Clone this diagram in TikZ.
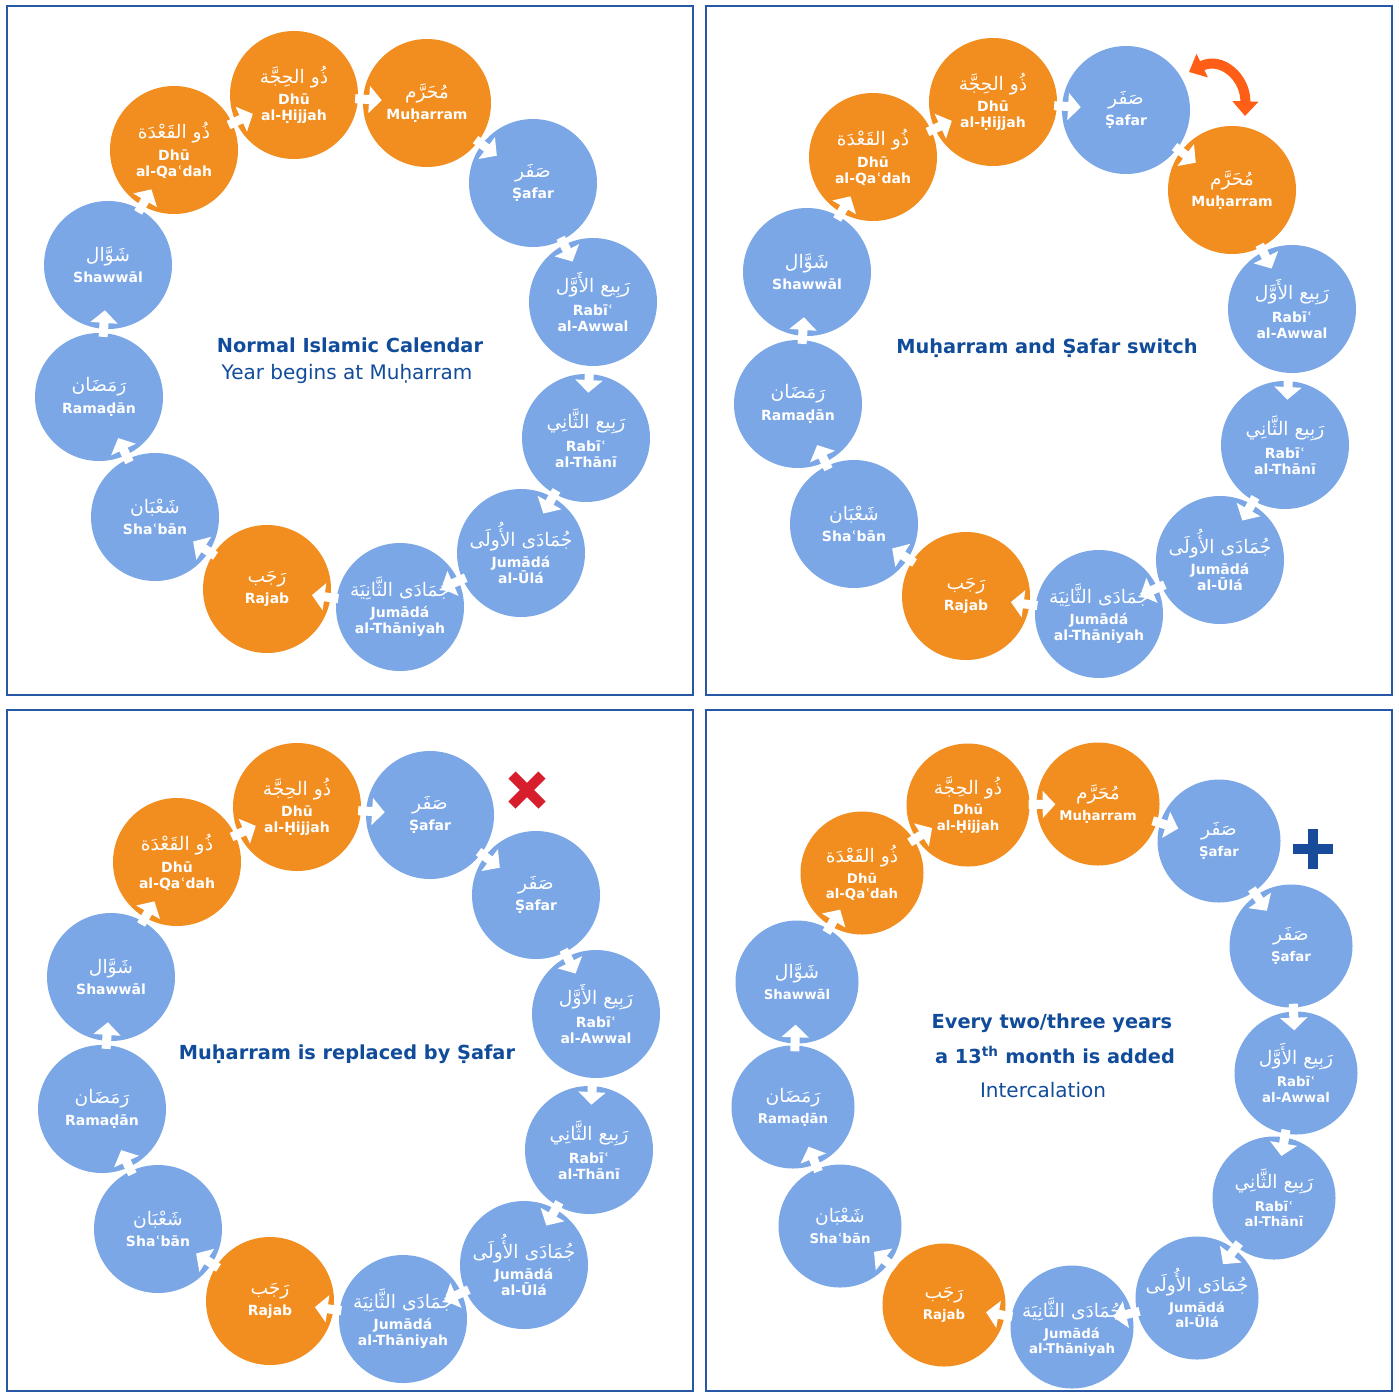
\documentclass[tikz,border=0pt]{standalone}
\usepackage{fontspec}
\setmainfont{DejaVu Sans}
\newfontfamily\arabicfont[Script=Arabic]{DejaVu Sans}
\TeXXeTstate=1
\usetikzlibrary{calc,arrows.meta}

\definecolor{holyorange}{RGB}{242,141,31}
\definecolor{monthblue}{RGB}{123,167,230}
\definecolor{titleblue}{RGB}{17,76,155}
\definecolor{frameblue}{RGB}{38,88,165}
\definecolor{swaporange}{RGB}{255,94,22}
\definecolor{crossred}{RGB}{214,30,45}
\definecolor{plusblue}{RGB}{25,75,155}

\newcommand{\monthtext}[2]{{\arabicfont\mdseries\fontsize{14}{15}\selectfont\beginR #1\endR}\\[4pt]#2}
\newcommand{\mMuharram}{\monthtext{مُحَرَّم}{Muḥarram}}
\newcommand{\mSafar}{\monthtext{صَفَر}{Ṣafar}}
\newcommand{\mRabiA}{\monthtext{رَبِيع الأَوَّل}{Rabīʿ\\al-Awwal}}
\newcommand{\mRabiT}{\monthtext{رَبِيع الثَّانِي}{Rabīʿ\\al-Thānī}}
\newcommand{\mJumadaU}{\monthtext{جُمَادَى الأُولَى}{Jumādá\\al-Ūlá}}
\newcommand{\mJumadaT}{\monthtext{جُمَادَى الثَّانِيَة}{Jumādá\\al-Thāniyah}}
\newcommand{\mRajab}{\monthtext{رَجَب}{Rajab}}
\newcommand{\mShaban}{\monthtext{شَعْبَان}{Shaʿbān}}
\newcommand{\mRamadan}{\monthtext{رَمَضَان}{Ramaḍān}}
\newcommand{\mShawwal}{\monthtext{شَوَّال}{Shawwāl}}
\newcommand{\mQadah}{\monthtext{ذُو القَعْدَة}{Dhū\\al-Qaʿdah}}
\newcommand{\mHijjah}{\monthtext{ذُو الحِجَّة}{Dhū\\al-Ḥijjah}}

\tikzset{
  month/.style={circle, minimum size=96pt, inner sep=0pt, text=white, align=center,
    font=\bfseries\fontsize{10.5}{12}\selectfont},
  holy/.style={month, fill=holyorange},
  plain/.style={month, fill=monthblue},
  link/.style={white, line width=6.75pt, -{Triangle[width=20pt,length=9.5pt]}},
  frame/.style={draw=frameblue, line width=1.9pt},
  title/.style={text=titleblue, font=\bfseries\fontsize{14.5}{17}\selectfont},
  subtitle/.style={text=titleblue, font=\fontsize{15}{17}\selectfont},
}

\begin{document}
\begin{tikzpicture}[x=0.75pt,y=0.75pt,yscale=-1,xscale=1]
\useasboundingbox (0,0) rectangle (1399,1393);

%Shape: Rectangle - the four frames
\draw[frame] (7,6) rectangle (693,695);
\draw[frame] (706,6) rectangle (1392,695);
\draw[frame] (7,710) rectangle (693,1391);
\draw[frame] (706,710) rectangle (1392,1391);

%Panel 1: normal calendar
\foreach \n/\x/\y/\kind/\lab in {1/427/103/holy/\mMuharram, 2/533/183/plain/\mSafar,
    3/593/302/plain/\mRabiA, 4/586/438/plain/\mRabiT, 5/521/553/plain/\mJumadaU,
    6/400/607/plain/\mJumadaT, 7/267/589/holy/\mRajab, 8/155/517/plain/\mShaban,
    9/99/397/plain/\mRamadan, 10/108/265/plain/\mShawwal, 11/174/150/holy/\mQadah,
    12/294/95/holy/\mHijjah}
  \node[\kind] (p1m\n) at (\x,\y) {\lab};

%Panel 2: Muharram and Safar switch
\begin{scope}[shift={(699,7)}]
\foreach \n/\x/\y/\kind/\lab in {1/427/103/plain/\mSafar, 2/533/183/holy/\mMuharram,
    3/593/302/plain/\mRabiA, 4/586/438/plain/\mRabiT, 5/521/553/plain/\mJumadaU,
    6/400/607/plain/\mJumadaT, 7/267/589/holy/\mRajab, 8/155/517/plain/\mShaban,
    9/99/397/plain/\mRamadan, 10/108/265/plain/\mShawwal, 11/174/150/holy/\mQadah,
    12/294/95/holy/\mHijjah}
  \node[\kind] (p2m\n) at (\x,\y) {\lab};
\end{scope}

%Panel 3: Muharram replaced by Safar
\begin{scope}[shift={(3,712)}]
\foreach \n/\x/\y/\kind/\lab in {1/427/103/plain/\mSafar, 2/533/183/plain/\mSafar,
    3/593/302/plain/\mRabiA, 4/586/438/plain/\mRabiT, 5/521/553/plain/\mJumadaU,
    6/400/607/plain/\mJumadaT, 7/267/589/holy/\mRajab, 8/155/517/plain/\mShaban,
    9/99/397/plain/\mRamadan, 10/108/265/plain/\mShawwal, 11/174/150/holy/\mQadah,
    12/294/95/holy/\mHijjah}
  \node[\kind] (p3m\n) at (\x,\y) {\lab};
\end{scope}

%Panel 4: intercalation, 13 months
\begin{scope}[month/.append style={minimum size=92.25pt, font=\bfseries\fontsize{10}{11.5}\selectfont}]
\foreach \n/\x/\y/\kind/\lab in {1/1098/804/holy/\mMuharram, 2/1219/841/plain/\mSafar,
    3/1291/946/plain/\mSafar, 4/1296/1073/plain/\mRabiA, 5/1274/1198/plain/\mRabiT,
    6/1197/1298/plain/\mJumadaU, 7/1072/1327/plain/\mJumadaT, 8/944/1305/holy/\mRajab,
    9/840/1226/plain/\mShaban, 10/793/1107/plain/\mRamadan, 11/797/982/plain/\mShawwal,
    12/862/873/holy/\mQadah, 13/968/805/holy/\mHijjah}
  \node[\kind] (p4m\n) at (\x,\y) {\lab};
\end{scope}

%Straight Lines: white arrows between months
\foreach \p in {1,2,3}
  \foreach \i in {1,...,12}{
    \pgfmathtruncatemacro\j{mod(\i,12)+1}
    \draw[link] ($(p\p m\j)!54pt!(p\p m\i)$) -- ($(p\p m\j)!34pt!(p\p m\i)$);
  }
\foreach \i in {1,...,13}{
  \pgfmathtruncatemacro\j{mod(\i,13)+1}
  \draw[link] ($(p4m\j)!52pt!(p4m\i)$) -- ($(p4m\j)!32pt!(p4m\i)$);
}

% Text Node
\node[title] (t1a) at (350,345) {Normal Islamic Calendar};
\node[subtitle] (t1b) at (347,374) {Year begins at Muḥarram};
\node[title] (t2a) at (1047,348) {Muḥarram and Ṣafar switch};
\node[title] (t3a) at (347,1054) {Muḥarram is replaced by Ṣafar};
\node[title] (t4a) at (1052,1023) {Every two/three years};
\node[title] (t4b) at (1055,1055) {a 13\textsuperscript{th} month is added};
\node[subtitle] (t4c) at (1043,1090) {Intercalation};

%Curve Lines: swap arrow
\coordinate (swapA) at (1189,72);
\coordinate (swapB) at (1245,116);
\draw[swaporange, line width=7.5pt, {Triangle[width=19pt,length=11pt]}-{Triangle[width=19pt,length=11pt]}]
  (swapA) .. controls (1222,56) and (1246,78) .. (swapB);

%Shape: cross
\draw[crossred, line width=7.5pt] (512,775) -- (542,805) (542,775) -- (512,805);

%Shape: plus
\draw[plusblue, line width=7.5pt] (1293,849) -- (1333,849) (1313,829) -- (1313,869);

\end{tikzpicture}
\end{document}
